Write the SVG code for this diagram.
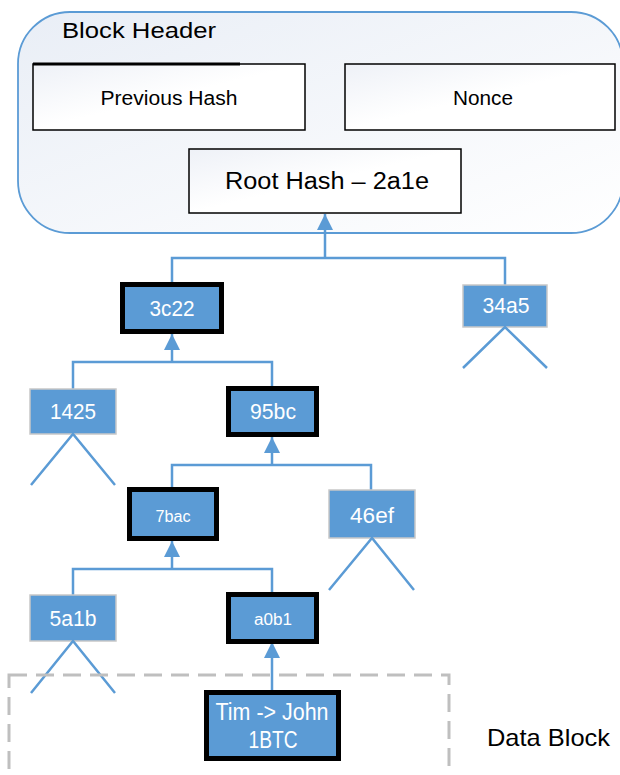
<svg xmlns="http://www.w3.org/2000/svg" width="620" height="775" viewBox="0 0 620 775">
<defs>
<linearGradient id="bg" x1="0" y1="0" x2="1" y2="1">
<stop offset="0" stop-color="#e9eef6"/>
<stop offset="1" stop-color="#ffffff"/>
</linearGradient>
<linearGradient id="hb" x1="0" y1="0" x2="1" y2="1">
<stop offset="0" stop-color="#eef1f7"/>
<stop offset="0.5" stop-color="#ffffff"/>
<stop offset="1" stop-color="#ffffff"/>
</linearGradient>
<marker id="ah" viewBox="0 0 16 16" refX="16" refY="8" markerWidth="16" markerHeight="16" markerUnits="userSpaceOnUse" orient="auto">
<path d="M0,0 L16,8 L0,16 Z" fill="#5b9bd5"/>
</marker>
</defs>
<style>
.hbox{fill:url(#hb);stroke:#000;stroke-width:1.5}
.leaf{fill:#5b9bd5;stroke:#c8c8c8;stroke-width:1.5}
.path{fill:#5b9bd5;stroke:#000;stroke-width:5}
.conn{fill:none;stroke:#5b9bd5;stroke-width:2.5}
.tri{fill:none;stroke:#5b9bd5;stroke-width:2.5}
.dk{font-family:"Liberation Sans",Arial,sans-serif;fill:#000}
.wt{font-family:"Liberation Sans",Arial,sans-serif;fill:#fff;text-anchor:middle}
</style>

<g id="block-header">
<rect x="18" y="12" width="605" height="221" rx="52" ry="52" fill="url(#bg)" stroke="#5b9bd5" stroke-width="1.8"/>
<text class="dk" x="62" y="38" font-size="22" textLength="154" lengthAdjust="spacingAndGlyphs">Block Header</text>
</g>

<g id="previous-hash">
<rect class="hbox" x="33" y="64" width="272" height="66"/>
<line x1="33" y1="64" x2="240" y2="64" stroke="#000" stroke-width="3"/>
<text class="dk" x="169" y="105" font-size="20" text-anchor="middle" textLength="137" lengthAdjust="spacingAndGlyphs">Previous Hash</text>
</g>

<g id="nonce">
<rect class="hbox" x="345" y="64" width="270" height="66"/>
<text class="dk" x="483" y="105" font-size="20" text-anchor="middle" textLength="60" lengthAdjust="spacingAndGlyphs">Nonce</text>
</g>

<g id="root-hash">
<rect class="hbox" x="189" y="149" width="272" height="64"/>
<text class="dk" x="327" y="189" font-size="23" text-anchor="middle" textLength="204" lengthAdjust="spacingAndGlyphs">Root Hash – 2a1e</text>
</g>

<g id="connectors">
<path class="conn" d="M172,284 V258 H505 V286"/>
<line class="conn" x1="325" y1="258" x2="325" y2="214" marker-end="url(#ah)"/>
<path class="conn" d="M73,389 V362 H272 V386"/>
<line class="conn" x1="172" y1="362" x2="172" y2="334" marker-end="url(#ah)"/>
<path class="conn" d="M172,487 V465 H371 V490"/>
<line class="conn" x1="272" y1="465" x2="272" y2="437" marker-end="url(#ah)"/>
<path class="conn" d="M73,595 V569 H272 V593"/>
<line class="conn" x1="172" y1="569" x2="172" y2="541" marker-end="url(#ah)"/>
<line class="conn" x1="272" y1="690" x2="272" y2="642" marker-end="url(#ah)"/>
</g>

<g id="n-3c22">
<rect class="path" x="122.5" y="284.5" width="99" height="47"/>
<text class="wt" x="172" y="316" font-size="22" textLength="45" lengthAdjust="spacingAndGlyphs">3c22</text>
</g>

<g id="n-34a5">
<rect class="leaf" x="463" y="285" width="84" height="42"/>
<path class="tri" d="M463,368 L505,327 L547,368"/>
<text class="wt" x="506" y="313" font-size="22" textLength="47" lengthAdjust="spacingAndGlyphs">34a5</text>
</g>

<g id="n-1425">
<rect class="leaf" x="30" y="389" width="86" height="45"/>
<path class="tri" d="M31,485 L73,434 L115,485"/>
<text class="wt" x="73" y="419" font-size="22" textLength="46" lengthAdjust="spacingAndGlyphs">1425</text>
</g>

<g id="n-95bc">
<rect class="path" x="228.5" y="388.5" width="88" height="46"/>
<text class="wt" x="273" y="419" font-size="22" textLength="46" lengthAdjust="spacingAndGlyphs">95bc</text>
</g>

<g id="n-7bac">
<rect class="path" x="129.5" y="489.5" width="87" height="49"/>
<text class="wt" x="173" y="522" font-size="16" textLength="35" lengthAdjust="spacingAndGlyphs">7bac</text>
</g>

<g id="n-46ef">
<rect class="leaf" x="329" y="490" width="86" height="48"/>
<path class="tri" d="M329,590 L372,538 L414,590"/>
<text class="wt" x="372" y="523" font-size="22" textLength="44" lengthAdjust="spacingAndGlyphs">46ef</text>
</g>

<g id="n-5a1b">
<rect class="leaf" x="30" y="595" width="86" height="46"/>
<path class="tri" d="M31,693 L73,641 L115,693"/>
<text class="wt" x="73" y="626" font-size="22" textLength="47" lengthAdjust="spacingAndGlyphs">5a1b</text>
</g>

<g id="n-a0b1">
<rect class="path" x="228.5" y="594.5" width="88" height="47"/>
<text class="wt" x="273" y="625" font-size="16" textLength="38" lengthAdjust="spacingAndGlyphs">a0b1</text>
</g>

<g id="data-block">
<rect x="9" y="675" width="440" height="120" fill="none" stroke="#bfbfbf" stroke-width="3" stroke-dasharray="18,9"/>
<text class="dk" x="487" y="746" font-size="24" textLength="123" lengthAdjust="spacingAndGlyphs">Data Block</text>
</g>

<g id="n-tx">
<rect class="path" x="206.5" y="692.5" width="132" height="66"/>
<text class="wt" x="272" y="720" font-size="23" textLength="113" lengthAdjust="spacingAndGlyphs">Tim -&gt; John</text>
<text class="wt" x="273" y="748" font-size="23" textLength="49" lengthAdjust="spacingAndGlyphs">1BTC</text>
</g>
</svg>
